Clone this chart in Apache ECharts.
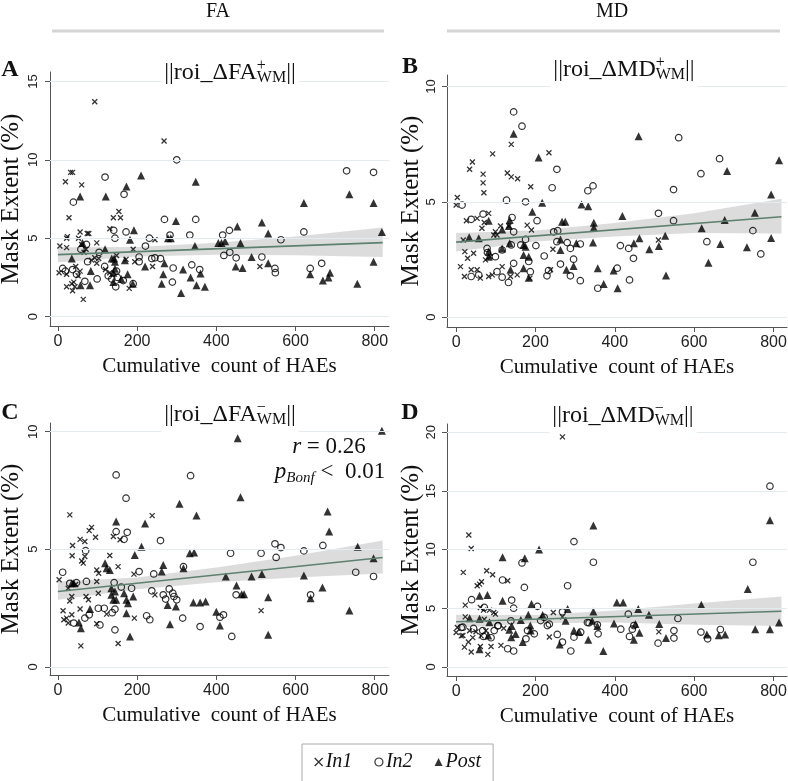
<!DOCTYPE html>
<html>
<head>
<meta charset="utf-8">
<script src="https://cdn.jsdelivr.net/npm/echarts@6/dist/echarts.min.js"></script>
<style>html,body{margin:0;padding:0;background:#fff}#c{width:788px;height:781px}</style>
</head>
<body>
<div id="c"></div>
<script>
// ---------------- DATA ----------------
const xTicks = [0, 200, 400, 600, 800];
const yTicksA = [0, 5, 10, 15];
const yTicksB = [0, 5, 10];
const yTicksC = [0, 5, 10];
const yTicksD = [0, 5, 10, 15, 20];

const A_in1 = [[93,13.7],[268,11.2],[32,9.2],[37,9.2],[19,8.6],[60,8.4],[28,6.3],[154,6.7],[158,6.3],[140,6.3],[131,5.6],[56,5.4],[74,5.3],[78,5.3],[24,5.1],[22,5.0],[52,5.0],[98,4.7],[5,4.5],[245,4.9],[22,4.4],[71,4.3],[190,4.3],[148,3.9],[93,3.75],[103,3.7],[194,3.5],[239,3.2],[3,2.8],[22,2.7],[56,2.9],[51,2.6],[35,2.1],[22,1.9],[43,1.9],[37,1.65],[64,1.1],[180,1.8],[510,3.2],[98,3.4],[131,2.8],[172,3.65],[60,4.6],[66,4.1],[45,3.2],[85,3.6],[40,2.2],[120,3.0]];
const A_in2 = [[119,8.9],[300,10.0],[729,9.3],[797,9.2],[39,7.3],[167,7.8],[269,6.2],[348,6.2],[172,5.4],[141,5.5],[144,5.0],[333,5.2],[433,5.5],[416,5.2],[621,5.4],[563,4.9],[231,5.0],[283,5.2],[221,4.5],[72,4.6],[58,4.3],[104,4.1],[434,4.1],[419,3.9],[450,3.75],[515,3.8],[205,3.8],[205,3.5],[237,3.7],[259,3.7],[118,3.2],[75,3.5],[37,3.0],[12,3.07],[338,3.3],[291,3.1],[358,3.0],[548,3.07],[549,2.8],[637,3.07],[666,3.4],[127,2.6],[148,2.9],[150,2.5],[136,2.4],[99,2.4],[289,2.2],[165,2.3],[146,1.9],[68,2.25],[47,2.7],[19,2.9],[190,2.1],[245,3.75]];
const A_post = [[210,9.0],[348,8.6],[173,8.3],[56,7.66],[121,7.66],[298,6.1],[515,6.0],[621,7.25],[736,7.8],[797,7.25],[818,5.4],[531,5.3],[453,5.75],[192,5.5],[182,4.9],[278,5.0],[285,5.0],[346,4.5],[422,4.8],[405,4.7],[413,4.7],[461,4.7],[119,4.3],[489,3.8],[35,3.7],[136,3.7],[144,3.5],[169,3.6],[269,3.4],[531,3.4],[797,3.5],[449,3.2],[466,3.1],[316,3.0],[220,3.2],[144,3.05],[360,2.75],[266,2.7],[176,2.7],[637,2.7],[687,2.8],[140,2.8],[683,2.5],[669,2.3],[335,2.5],[262,2.1],[350,2.0],[371,1.9],[311,1.5],[81,2.0],[57,2.0],[83,2.9],[756,2.1],[189,2.1],[140,2.2],[142,3.7],[62,4.7],[160,2.4]];

const B_in1 = [[139,7.49],[92,7.08],[234,7.13],[34,6.41],[41,6.73],[68,6.2],[68,5.82],[70,5.39],[129,6.25],[139,6.08],[155,6.0],[188,5.65],[3,5.19],[0,4.86],[26,4.18],[53,4.28],[65,3.85],[71,4.1],[82,4.5],[95,3.56],[99,3.7],[112,3.95],[133,3.95],[179,3.99],[190,3.78],[18,3.34],[22,2.84],[11,2.19],[29,2.55],[44,2.77],[38,2.05],[21,1.76],[53,2.05],[61,1.69],[74,2.48],[86,2.62],[91,1.83],[116,2.19],[137,1.76],[154,1.83],[186,1.69],[244,2.94],[238,2.05],[510,3.34],[82,1.76],[103,3.56]];
const B_in2 = [[145,8.9],[166,8.28],[561,7.78],[664,6.87],[617,6.22],[254,6.41],[242,5.61],[332,5.48],[345,5.69],[548,5.53],[127,5.07],[175,5.0],[15,4.86],[38,4.24],[68,4.47],[141,4.32],[204,4.18],[510,4.5],[548,4.18],[748,3.75],[246,3.7],[256,3.75],[145,3.7],[175,3.37],[163,3.13],[139,3.13],[201,3.1],[254,3.27],[280,3.23],[288,2.98],[313,3.17],[414,3.1],[435,2.98],[632,3.27],[768,2.74],[447,2.55],[296,2.51],[222,2.65],[99,2.62],[78,2.98],[79,2.8],[116,2.91],[263,2.3],[233,2.02],[229,1.79],[288,1.79],[313,1.58],[357,1.25],[437,1.61],[406,2.12],[116,1.73],[132,1.5],[103,1.97],[187,1.97],[38,1.76],[57,1.83],[183,2.41],[145,2.33]];
const B_post = [[145,7.95],[208,6.92],[460,7.84],[814,6.8],[683,6.34],[217,4.96],[316,4.88],[333,4.81],[192,4.57],[347,4.09],[347,3.89],[267,4.14],[275,4.14],[419,4.38],[677,4.21],[753,4.52],[794,5.32],[619,3.85],[794,3.43],[527,3.53],[462,3.42],[448,3.2],[511,3.08],[487,2.94],[666,3.17],[733,3.03],[636,2.36],[529,1.8],[357,2.12],[372,1.43],[407,1.25],[397,2.02],[345,3.23],[303,3.2],[296,2.22],[278,2.05],[263,2.91],[263,3.37],[33,3.46],[57,3.42],[82,4.18],[116,3.8],[116,2.98],[135,4.21],[133,3.95],[135,3.2],[170,3.13],[175,3.05],[170,2.69],[183,2.62],[170,2.12],[137,2.05],[183,1.71],[82,2.84],[82,2.62]];

const C_in1 = [[30,6.46],[238,6.43],[85,5.93],[79,5.79],[95,5.51],[56,5.42],[68,5.33],[37,5.16],[131,4.73],[140,5.54],[157,5.4],[36,4.72],[68,4.69],[64,4.41],[98,4.12],[103,3.98],[152,4.26],[192,3.94],[3,3.7],[26,3.34],[35,2.99],[30,2.8],[98,3.63],[102,3.13],[71,2.99],[77,2.85],[13,2.38],[22,2.07],[35,2.21],[56,2.46],[26,1.86],[98,1.83],[193,2.07],[513,2.39],[245,3.06],[123,2.24],[58,0.89],[152,0.99],[45,3.5],[60,4.5],[15,2.0]];
const C_in2 = [[147,8.16],[335,8.13],[172,7.17],[147,5.75],[175,5.72],[167,5.42],[259,5.37],[548,5.23],[563,5.07],[669,5.16],[621,4.93],[436,4.83],[513,4.83],[551,4.65],[317,4.26],[242,3.95],[205,4.05],[752,4.02],[797,3.84],[12,4.02],[70,4.94],[72,3.63],[142,3.58],[30,3.55],[47,3.58],[160,3.39],[186,3.34],[237,3.23],[281,3.31],[290,3.13],[293,2.99],[300,2.85],[266,3.06],[272,2.88],[450,3.06],[638,3.06],[224,2.17],[232,2.0],[315,2.07],[359,1.71],[418,2.21],[409,2.11],[439,1.29],[144,1.57],[106,1.78],[102,2.49],[117,2.49],[144,2.45],[40,1.86],[68,2.07],[79,2.21],[137,2.3]];
const C_post = [[818,10.04],[454,9.72],[461,7.21],[307,6.93],[350,6.43],[147,6.18],[220,6.1],[681,6.6],[685,5.75],[757,5.11],[797,4.62],[211,5.11],[194,4.76],[333,4.83],[344,4.86],[266,4.33],[262,4.05],[317,4.19],[119,4.4],[123,4.19],[131,4.12],[424,3.84],[489,3.84],[515,3.95],[621,3.88],[451,3.46],[464,3.09],[470,3.09],[531,2.96],[668,3.37],[638,2.92],[342,2.73],[359,2.73],[373,2.78],[277,2.63],[298,2.56],[736,2.39],[400,2.34],[409,1.76],[283,1.81],[173,2.28],[531,1.36],[182,1.29],[81,2.46],[58,1.64],[53,1.88],[135,3.34],[144,3.2],[140,2.85],[147,2.85],[167,3.13],[173,2.85],[177,2.7],[190,2.99],[135,3.06],[35,3.55],[40,3.55]];

const D_in1 = [[268,19.6],[32,11.25],[38,10.1],[18,8.06],[77,8.2],[92,7.86],[64,7.26],[59,7.06],[53,6.92],[130,7.35],[23,5.27],[61,5.07],[69,4.84],[84,4.84],[95,4.64],[99,4.5],[23,4.27],[245,4.64],[268,4.27],[3,3.36],[13,2.65],[0,2.93],[34,3.08],[42,2.5],[63,2.65],[71,4.07],[75,3.08],[511,2.99],[235,2.55],[21,1.69],[38,1.27],[80,1.07],[61,1.75],[88,1.75],[17,2.68],[31,2.12],[113,1.84],[50,3.0],[120,3.3]];
const D_in2 = [[791,15.4],[748,8.92],[346,8.92],[297,10.68],[166,8.86],[281,6.92],[172,6.78],[117,7.41],[39,5.73],[140,5.7],[145,5.01],[71,5.07],[205,5.16],[268,4.7],[559,4.13],[434,4.5],[222,4.22],[235,3.65],[331,3.79],[356,3.59],[415,3.22],[444,3.22],[13,3.36],[44,3.28],[105,3.5],[138,3.93],[197,2.82],[180,3.1],[255,2.77],[268,2.12],[289,1.36],[297,2.54],[314,2.97],[335,3.76],[358,2.82],[448,3.53],[437,2.6],[509,2.03],[549,3.1],[549,2.46],[617,2.97],[634,2.4],[666,3.19],[130,1.55],[145,1.36],[176,2.4],[106,3.53],[96,3.1],[88,2.49],[67,3.1],[69,2.6],[17,3.39],[230,3.53],[213,3.95]];
const D_post = [[791,12.5],[346,12.05],[209,10.0],[173,9.26],[117,9.34],[735,6.64],[59,6.07],[79,6.13],[117,5.64],[190,5.36],[405,5.5],[421,5.5],[618,5.3],[281,4.93],[346,4.73],[459,4.93],[486,4.44],[34,4.16],[182,4.44],[218,4.42],[276,3.93],[343,3.93],[398,3.7],[452,3.65],[356,3.5],[814,3.79],[754,3.22],[791,3.22],[512,3.65],[333,2.32],[371,1.36],[261,1.92],[448,2.32],[462,2.91],[529,2.46],[632,2.77],[662,2.71],[678,2.77],[134,3.16],[139,2.54],[168,2.12],[59,1.5],[81,2.68],[188,3.1],[297,3.1],[310,2.97],[187,3.53],[84,3.81],[163,4.0],[59,4.1],[140,3.5],[150,2.8]];

// linear fits (value at fitX ends) and confidence bands
const fitX = [0, 820];
const fitA = [3.95, 4.72];
const fitB = [3.25, 4.35];
const fitC = [3.2, 4.65];
const fitD = [3.85, 4.75];
const bandX = [0, 200, 400, 600, 820];
const bandA_lo = [3.47, 3.84, 3.95, 3.91, 3.8];
const bandA_hi = [4.43, 4.44, 4.71, 5.11, 5.68];
const bandB_lo = [2.85, 3.28, 3.5, 3.65, 3.62];
const bandB_hi = [3.65, 3.76, 4.08, 4.5, 5.13];
const bandC_lo = [2.85, 3.3, 3.6, 3.8, 3.97];
const bandC_hi = [3.63, 3.8, 4.22, 4.72, 5.37];
const bandD_lo = [3.35, 3.72, 3.78, 3.6, 3.5];
const bandD_hi = [4.45, 4.42, 4.8, 5.4, 6.0];

const seriesNames = ['In1', 'In2', 'Post'];
const xName = 'Cumulative  count of HAEs';
const yName = 'Mask Extent (%)';

// ---------------- LAYOUT ----------------
const panels = [
  {grid:{left:50, top:72, width:339, height:254}, x:[-20,836], y:[-0.6,15.6], yt:yTicksA, d:[A_in1,A_in2,A_post], fit:fitA, lo:bandA_lo, hi:bandA_hi, yGap:26, yMargin:10},
  {grid:{left:447, top:75, width:340, height:252}, x:[-23,834], y:[-0.43,10.5], yt:yTicksB, d:[B_in1,B_in2,B_post], fit:fitB, lo:bandB_lo, hi:bandB_hi, yGap:20, yMargin:9},
  {grid:{left:50, top:423, width:339, height:252}, x:[-20,836], y:[-0.35,10.37], yt:yTicksC, d:[C_in1,C_in2,C_post], fit:fitC, lo:bandC_lo, hi:bandC_hi, yGap:26, yMargin:10},
  {grid:{left:447, top:424, width:340, height:252}, x:[-23,834], y:[-0.77,20.7], yt:yTicksD, d:[D_in1,D_in2,D_post], fit:fitD, lo:bandD_lo, hi:bandD_hi, yGap:20, yMargin:9}
];

const crossPath = 'path://M0,0L10,10M10,0L0,10';
const symStyles = [
  {symbol: crossPath, symbolSize: 5, itemStyle:{color:'#000', borderColor:'#000', borderWidth:1.3}},
  {symbol: 'circle', symbolSize: 6.5, itemStyle:{color:'rgba(0,0,0,0)', borderColor:'#000', borderWidth:1.2}},
  {symbol: 'triangle', symbolSize: 8, itemStyle:{color:'#000', borderColor:'#000', borderWidth:0}}
];

const grids = [], xAxes = [], yAxes = [], series = [];
const axisColor = '#555';
panels.forEach((p, i) => {
  grids.push(Object.assign({containLabel:false, outerBoundsMode:'none'}, p.grid));
  xAxes.push({
    gridIndex:i, type:'value', min:p.x[0], max:p.x[1],
    axisLine:{show:true, onZero:false, lineStyle:{color:axisColor, width:1}},
    axisTick:{show:true, length:5, customValues:xTicks, lineStyle:{color:axisColor}},
    axisLabel:{customValues:xTicks, fontSize:16, color:'#222', fontFamily:'Liberation Sans', margin:8},
    splitLine:{show:false},
    name:xName, nameLocation:'middle', nameGap:30,
    nameTextStyle:{fontFamily:'Liberation Serif', fontSize:21, color:'#111'}
  });
  yAxes.push({
    gridIndex:i, type:'value', min:p.y[0], max:p.y[1],
    axisLine:{show:true, onZero:false, lineStyle:{color:axisColor, width:1}},
    axisTick:{show:true, length:5, customValues:p.yt, lineStyle:{color:axisColor}},
    axisLabel:{customValues:p.yt, rotate:90, fontSize:13, color:'#222', fontFamily:'Liberation Sans', margin:p.yMargin},
    splitLine:{show:false},
    name:yName, nameLocation:'middle', nameRotate:90, nameGap:p.yGap,
    nameTextStyle:{fontFamily:'Liberation Serif', fontSize:25, color:'#111'}
  });
  // gridlines
  series.push({
    type:'line', xAxisIndex:i, yAxisIndex:i, data:[], z:0, silent:true,
    markLine:{silent:true, symbol:['none','none'], label:{show:false}, animation:false,
      lineStyle:{color:'#e2ecef', width:1, type:'solid'},
      data:p.yt.map(v => ({yAxis:v}))}
  });
  // confidence band
  const lo = p.lo, hi = p.hi;
  series.push({
    type:'custom', xAxisIndex:i, yAxisIndex:i, z:1, silent:true,
    data: bandX.map((x,k) => [x, lo[k], hi[k]]),
    renderItem: (params, api) => {
      if (params.dataIndex !== 0) return null;
      const top = bandX.map((x,k) => api.coord([x, hi[k]]));
      const bot = bandX.map((x,k) => api.coord([x, lo[k]])).reverse();
      return {type:'polygon', shape:{points: top.concat(bot)}, style:{fill:'#d6d6d6', opacity:0.85}};
    }
  });
  // scatter points
  p.d.forEach((arr, k) => {
    series.push(Object.assign({
      type:'scatter', name:seriesNames[k], xAxisIndex:i, yAxisIndex:i, z:2,
      data: arr
    }, symStyles[k]));
  });
  // fit line
  series.push({
    type:'line', xAxisIndex:i, yAxisIndex:i, z:3, silent:true, symbol:'none',
    data: fitX.map((x,k) => [x, p.fit[k]]),
    lineStyle:{color:'#5e8070', width:1.6}
  });
});

// ---------------- TEXT HELPERS ----------------
const mctx = document.createElement('canvas').getContext('2d');
function fontStr(p){ return (p.italic?'italic ':'') + (p.bold?'bold ':'') + p.size + 'px "Liberation Serif"'; }
function tw(t, f){ mctx.font = f; return mctx.measureText(t).width; }
function compose(parts, cx, cy, withBg){
  let x = 0, stackW = 0; const items = [];
  parts.forEach(p => {
    const f = fontStr(p); const w = tw(p.t, f);
    items.push({t:p.t, f, x, dy:p.dy||0});
    if (p.stack) { stackW = w; } else { x += Math.max(w, stackW); stackW = 0; }
  });
  const off = cx - x/2; const out = [];
  if (withBg) out.push({type:'rect', shape:{x:off-3, y:cy-17, width:x+6, height:34}, style:{fill:'#fff'}, z:100});
  items.forEach(it => out.push({type:'text', x:off+it.x, y:cy+it.dy, z:101,
    style:{text:it.t, font:it.f, fill:'#111', textAlign:'left', textVerticalAlign:'middle'}}));
  return out;
}
function panelTitle(q, sign, cx, cy){
  return compose([
    {t:'||roi_Δ'+q, size:24},
    {t:sign, size:16, dy:-7, stack:true},
    {t:'WM', size:16, dy:5},
    {t:'||', size:24}
  ], cx, cy, true);
}

const graphics = [];
graphics.push(...compose([{t:'FA', size:20}], 218, 12));
graphics.push(...compose([{t:'MD', size:20}], 612, 12));
graphics.push({type:'line', shape:{x1:52, y1:31, x2:384, y2:31}, style:{stroke:'#d4d4d4', lineWidth:3}});
graphics.push({type:'line', shape:{x1:447, y1:31, x2:780, y2:31}, style:{stroke:'#d4d4d4', lineWidth:3}});
graphics.push(...compose([{t:'A', size:24, bold:true}], 10, 70));
graphics.push(...compose([{t:'B', size:24, bold:true}], 410, 67));
graphics.push(...compose([{t:'C', size:24, bold:true}], 10, 413));
graphics.push(...compose([{t:'D', size:24, bold:true}], 410, 413));
graphics.push(...panelTitle('FA', '+', 230, 73));
graphics.push(...panelTitle('MD', '+', 624, 70));
graphics.push(...panelTitle('FA', '−', 230, 415));
graphics.push(...panelTitle('MD', '−', 623, 416));
graphics.push(...compose([{t:'r', size:23, italic:true}, {t:' = 0.26', size:23}], 329, 447));
graphics.push(...compose([{t:'p', size:23, italic:true}, {t:'Bonf', size:15, italic:true, dy:6}, {t:' <  0.01', size:23}], 330, 472));

const chart = echarts.init(document.getElementById('c'), null, {renderer:'canvas'});
chart.setOption({
  animation:false,
  backgroundColor:'#fff',
  grid:grids, xAxis:xAxes, yAxis:yAxes, series:series,
  graphic:graphics,
  legend:{
    left:302, top:744, orient:'horizontal',
    borderColor:'#aaa', borderWidth:1, padding:[8,12,14,12],
    itemGap:22, itemWidth:8, itemHeight:8, selectedMode:false,
    textStyle:{fontFamily:'Liberation Serif', fontStyle:'italic', fontSize:20, color:'#111', padding:[0,0,0,-2]},
    data:[
      {name:'In1', icon:crossPath, itemStyle:{color:'#000', borderColor:'#000', borderWidth:1.3}},
      {name:'In2', icon:'circle', itemStyle:{color:'rgba(0,0,0,0)', borderColor:'#000', borderWidth:1.2}},
      {name:'Post', icon:'triangle', itemStyle:{color:'#000', borderColor:'#000', borderWidth:0}}
    ]
  }
});
</script>
</body>
</html>
